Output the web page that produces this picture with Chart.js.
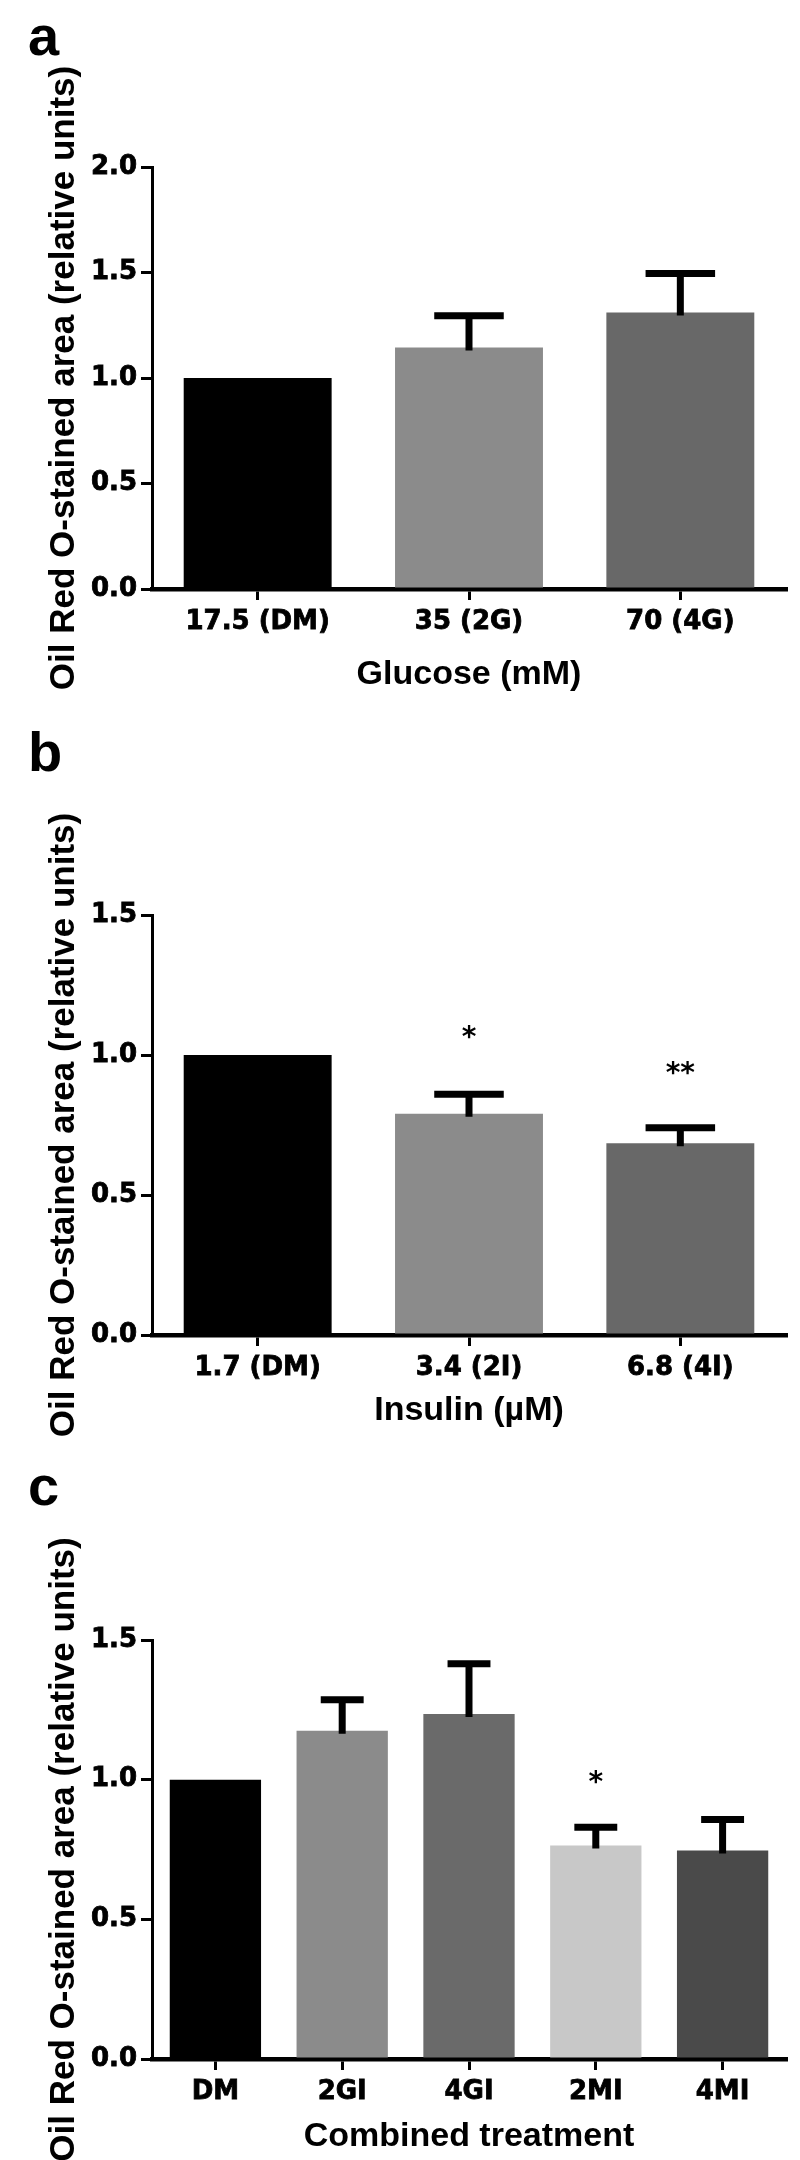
<!DOCTYPE html>
<html>
<head>
<meta charset="utf-8">
<script src="https://cdn.jsdelivr.net/npm/chart.js@4/dist/chart.umd.min.js"></script>
<style>
  body { margin: 0; background: #fff; }
  .panel { position: relative; width: 800px; height: 720px; }
  .panel canvas { position: absolute; left: 0; top: 0; }
  .tag { position: absolute; left: 28px; font: bold 56px 'Liberation Sans', Arial, sans-serif; line-height: 1; color: #000; }
</style>
</head>
<body>
<div class="panel"><canvas id="chartA" width="800" height="720"></canvas><div class="tag" style="top:8px">a</div></div>
<div class="panel"><canvas id="chartB" width="800" height="720"></canvas><div class="tag" style="top:4px">b</div></div>
<div class="panel"><canvas id="chartC" width="800" height="720"></canvas><div class="tag" style="top:18px">c</div></div>
<script>
// a: glucose
const glucoseLabels = ['17.5 (DM)', '35 (2G)', '70 (4G)'];
const glucoseMeans = [1.0, 1.145, 1.31];
const glucoseSem = [0, 0.15, 0.185];

// b: insulin
const insulinLabels = ['1.7 (DM)', '3.4 (2I)', '6.8 (4I)'];
const insulinMeans = [1.0, 0.79, 0.685];
const insulinSem = [0, 0.07, 0.055];
const insulinStars = ['', '*', '**'];
const insulinStarY = [null, 1.09, 0.96];

// c: combined
const comboLabels = ['DM', '2GI', '4GI', '2MI', '4MI'];
const comboMeans = [1.0, 1.175, 1.235, 0.764, 0.746];
const comboSem = [0, 0.111, 0.18, 0.066, 0.111];
const comboStars = ['', '', '', '*', ''];
const comboStarY = [null, null, null, 1.018, null];

const yTitle = 'Oil Red O-stained area (relative units)';
const tickFont = { family: "'DejaVu Sans', sans-serif", size: 26, weight: 'bold' };
const xTitleFont = { family: "'Liberation Sans', Arial, sans-serif", size: 34, weight: 'bold' };
const yTitleFont = { family: "'Liberation Sans', Arial, sans-serif", size: 35, weight: 'bold' };

// error bars (mean + SEM, upper only) and significance stars
const errorBars = {
  id: 'errorBars',
  afterDatasetsDraw(chart, args, opts) {
    const ctx = chart.ctx;
    const y = chart.scales.y;
    const means = chart.data.datasets[0].data;
    const meta = chart.getDatasetMeta(0);
    ctx.save();
    ctx.strokeStyle = '#000';
    ctx.fillStyle = '#000';
    ctx.lineWidth = 7;
    meta.data.forEach((bar, i) => {
      if (opts.sem[i]) {
        const top = y.getPixelForValue(means[i] + opts.sem[i]);
        const half = bar.width * 0.235;
        ctx.beginPath();
        ctx.moveTo(bar.x, bar.y + 3);
        ctx.lineTo(bar.x, top);
        ctx.moveTo(bar.x - half, top);
        ctx.lineTo(bar.x + half, top);
        ctx.stroke();
      }
      if (opts.stars && opts.stars[i]) {
        ctx.font = "bold 28px 'DejaVu Sans', sans-serif";
        ctx.textAlign = 'center';
        ctx.textBaseline = 'alphabetic';
        ctx.fillText(opts.stars[i], bar.x, y.getPixelForValue(opts.starY[i]) + 16);
      }
    });
    ctx.restore();
  }
};

function makeChart(id, labels, means, sem, stars, starY, colors, yMax, xTitle, lay) {
  return new Chart(document.getElementById(id), {
    type: 'bar',
    data: {
      labels: labels,
      datasets: [{
        data: means,
        backgroundColor: colors,
        borderWidth: 0,
        barPercentage: lay.barPct,
        categoryPercentage: 1
      }]
    },
    options: {
      responsive: false,
      animation: false,
      layout: { padding: { top: lay.top, right: 14, left: 0, bottom: 0 } },
      plugins: {
        legend: { display: false },
        tooltip: { enabled: false },
        errorBars: { sem: sem, stars: stars, starY: starY }
      },
      scales: {
        x: {
          ticks: { color: '#000', font: tickFont, padding: 7, textStrokeColor: '#000', textStrokeWidth: 0.8 },
          grid: { display: true, drawOnChartArea: false, drawTicks: true, tickLength: 11, color: '#000', lineWidth: 3, offset: false },
          border: { display: true, color: '#000', width: 4.5 },
          title: { display: true, text: xTitle, color: '#000', font: xTitleFont, padding: { top: 0, bottom: lay.xTitlePad } },
          afterFit: s => { s.height = lay.xh; }
        },
        y: {
          min: 0,
          max: yMax,
          ticks: { stepSize: 0.5, color: '#000', font: tickFont, padding: 4, textStrokeColor: '#000', textStrokeWidth: 0.8, callback: v => v.toFixed(1) },
          grid: { display: true, drawOnChartArea: false, drawTicks: true, tickLength: 11, color: '#000', lineWidth: 3 },
          border: { display: true, color: '#000', width: 3 },
          title: { display: true, text: yTitle, color: '#000', font: yTitleFont, padding: { top: 43, bottom: 0 } },
          afterFit: s => { s.width = 152; }
        }
      }
    },
    plugins: [errorBars]
  });
}

makeChart('chartA', glucoseLabels, glucoseMeans, glucoseSem, null, null,
  ['#000000', '#8b8b8b', '#686868'], 2, 'Glucose (mM)',
  { top: 167, xh: 131, xTitlePad: 25, barPct: 0.7 });

makeChart('chartB', insulinLabels, insulinMeans, insulinSem, insulinStars, insulinStarY,
  ['#000000', '#8b8b8b', '#686868'], 1.5, 'Insulin (\u00b5M)',
  { top: 195, xh: 105, xTitlePad: 9, barPct: 0.7 });

makeChart('chartC', comboLabels, comboMeans, comboSem, comboStars, comboStarY,
  ['#000000', '#8b8b8b', '#6a6a6a', '#c8c8c8', '#4a4a4a'], 1.5, 'Combined treatment',
  { top: 200, xh: 101, xTitlePad: 3, barPct: 0.72 });
</script>
</body>
</html>
